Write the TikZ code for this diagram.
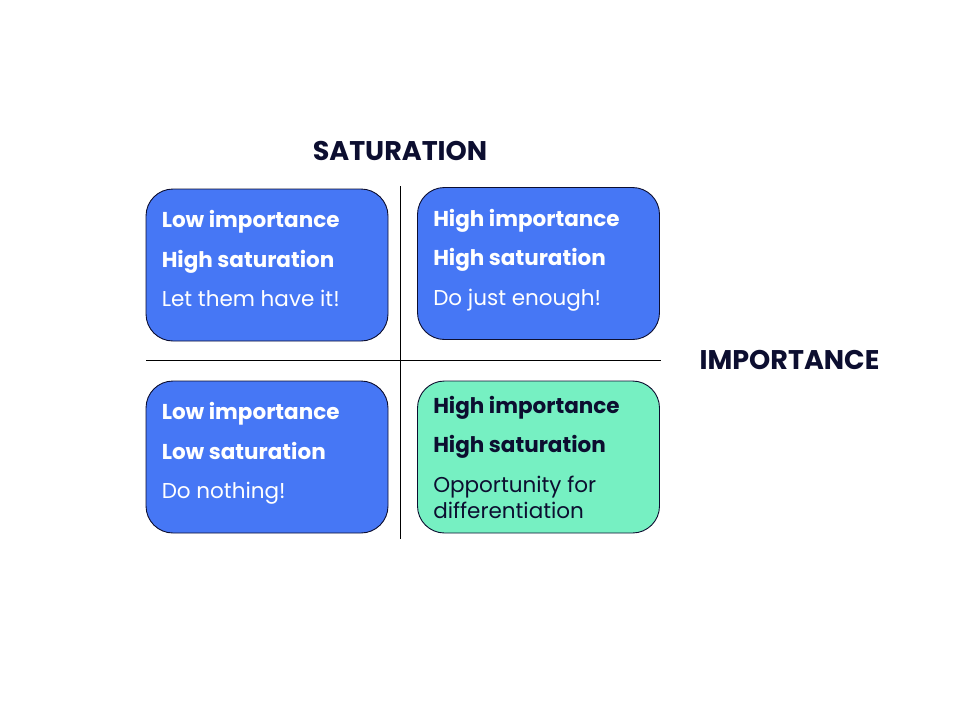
\documentclass[tikz,border=0pt]{standalone}
\usepackage{fontspec}
\setmainfont{Poppins}
\definecolor{quadblue}{RGB}{70, 119, 245}
\definecolor{quadgreen}{RGB}{118, 240, 194}
\definecolor{inkdark}{RGB}{12, 14, 48}
\usetikzlibrary{positioning, calc}

\begin{document}
\begin{tikzpicture}[
  x=1pt, y=-1pt,
  box/.style={draw=inkdark, line width=0.9pt, rounded corners=27pt, minimum width=242pt, minimum height=152pt, inner sep=0pt},
  txt/.style={font=\fontsize{21.5}{26}\selectfont, align=left, inner sep=0pt, anchor=north west},
  axis title/.style={font=\fontsize{27}{32}\selectfont\bfseries, text=inkdark, inner sep=0pt},
  axis line/.style={draw=black, line width=0.9pt},
]
\useasboundingbox (0,0) rectangle (960,720);

% Axis titles
\node[axis title] (sat) at (400, 151) {SATURATION};
\node[axis title] (imp) at (789.5, 360) {IMPORTANCE};

% Axes
\coordinate (vtop) at (400, 186);
\coordinate (vbot) at (400, 539);
\coordinate (hleft) at (146, 360);
\coordinate (hright) at (661, 360);
\draw[axis line] (vtop) -- (vbot);
\draw[axis line] (hleft) -- (hright);

% Four quadrants
\node[box, fill=quadblue] (lowhigh) at (267, 265) {};
\node[box, fill=quadblue] (highhigh) at (538.5, 263.5) {};
\node[box, fill=quadblue] (lowlow) at (267, 457) {};
\node[box, fill=quadgreen] (highopp) at (538.5, 457) {};

\node[txt, text=white] (lowhightxt) at ([xshift=16pt, yshift=-22pt]lowhigh.north west)
{\textbf{Low importance}\\[13.5pt]
\textbf{High saturation}\\[13.5pt]
Let them have it!};

\node[txt, text=white] (highhightxt) at ([xshift=16pt, yshift=-22pt]highhigh.north west)
{\textbf{High importance}\\[13.5pt]
\textbf{High saturation}\\[13.5pt]
Do just enough!};

\node[txt, text=white] (lowlowtxt) at ([xshift=16pt, yshift=-22pt]lowlow.north west)
{\textbf{Low importance}\\[13.5pt]
\textbf{Low saturation}\\[13.5pt]
Do nothing!};

\node[txt, text=inkdark] (highopptxt) at ([xshift=16pt, yshift=-15.5pt]highopp.north west)
{\textbf{High importance}\\[13.5pt]
\textbf{High saturation}\\[13.5pt]
Opportunity for\\
differentiation};
\end{tikzpicture}
\end{document}
